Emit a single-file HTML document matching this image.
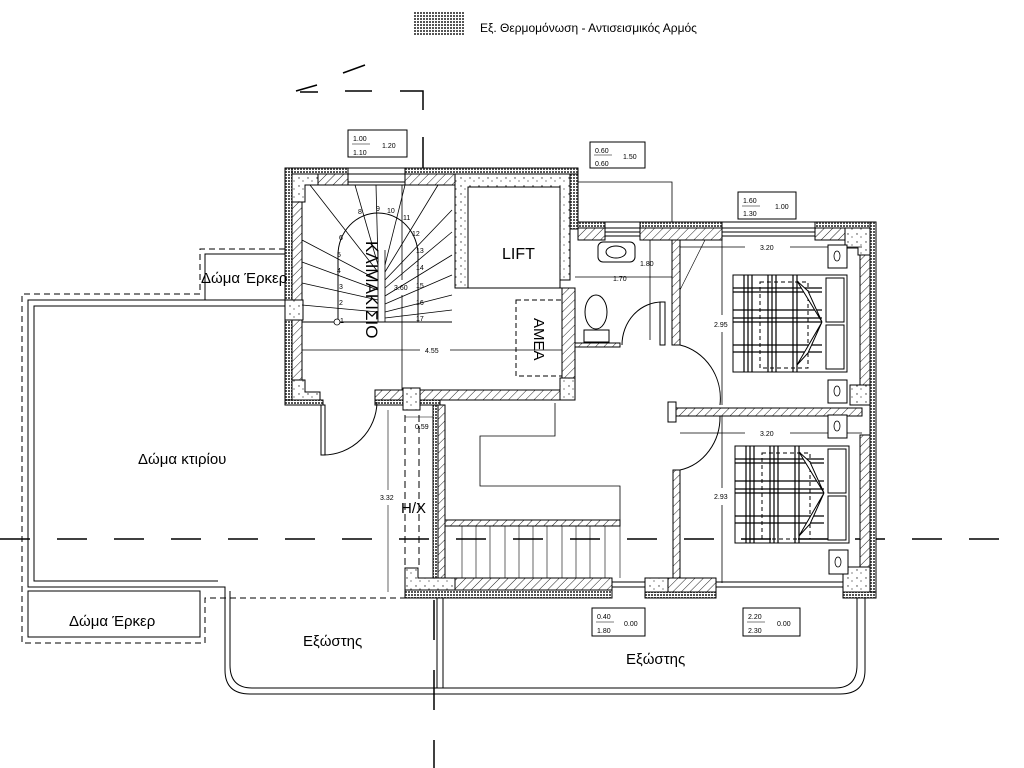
<!DOCTYPE html>
<html><head><meta charset="utf-8"><style>
html,body{margin:0;padding:0;background:#fff;}
svg{display:block;font-family:"Liberation Sans",sans-serif;}
</style></head><body>
<svg width="1024" height="768" viewBox="0 0 1024 768" xmlns="http://www.w3.org/2000/svg">
<defs>
<pattern id="ins" width="3" height="3" patternUnits="userSpaceOnUse"><rect width="3" height="3" fill="#fff"/><rect width="2" height="2" fill="#555"/></pattern>
<pattern id="hat" width="6" height="6" patternUnits="userSpaceOnUse" patternTransform="rotate(45)"><rect width="6" height="6" fill="#fff"/><line x1="0" y1="0" x2="0" y2="6" stroke="#222" stroke-width="1"/></pattern>
<pattern id="con" width="9" height="8" patternUnits="userSpaceOnUse"><rect width="9" height="8" fill="#fff"/><circle cx="2" cy="2" r="0.7" fill="#333"/><circle cx="6" cy="5" r="0.6" fill="#333"/></pattern>
</defs>
<g fill="none" stroke="#000" stroke-width="1">
<rect x="414" y="12" width="51" height="24" fill="url(#ins)" stroke="none"/>
<line x1="296" y1="91" x2="317" y2="85" stroke-width="1.5"/>
<line x1="300" y1="92" x2="318" y2="92" stroke-width="1.5"/>
<line x1="343" y1="73" x2="365" y2="65" stroke-width="1.5"/>
<line x1="345" y1="91" x2="372" y2="91" stroke-width="1.5"/>
<polyline points="400,91 423,91 423,110" stroke-width="1.5"/>
<line x1="423" y1="137" x2="423" y2="168" stroke-width="1.5"/>
<line x1="0" y1="539" x2="1000" y2="539" stroke-width="1.5" stroke-dasharray="30,27"/>
<line x1="434" y1="600" x2="434" y2="768" stroke-width="1.5" stroke-dasharray="40,30"/>

<polyline points="285,249 200,249 200,294 22,294 22,643 205,643 205,598 390,598" stroke-dasharray="6,4"/>
<polyline points="390,598 610,598" stroke-dasharray="6,4"/>
<polyline points="205,300 205,254 285,254"/>
<path d="M285,300 H28 V587 H225 V670 Q225,694 250,694 L840,694 Q865,694 865,670 L865,598"/>
<polyline points="285,306 34,306 34,581 218,581"/>
<path d="M230,591 V665 Q230,688 252,688 L835,688 Q857,688 857,665 L857,598"/>
<rect x="28" y="591" width="172" height="46"/>
<line x1="437" y1="598" x2="437" y2="688"/>
<line x1="443" y1="598" x2="443" y2="688"/>

<rect x="285" y="168" width="293" height="6" fill="url(#ins)" stroke="#000"/>
<rect x="348" y="168" width="57" height="6" fill="#fff" stroke="#000"/>
<rect x="285" y="168" width="7" height="237" fill="url(#ins)" stroke="#000"/>
<rect x="292" y="174" width="10" height="216" fill="url(#hat)"/>
<rect x="302" y="174" width="46" height="11" fill="url(#hat)"/>
<rect x="405" y="174" width="50" height="11" fill="url(#hat)"/>
<line x1="348" y1="182" x2="405" y2="182"/>
<line x1="348" y1="185" x2="405" y2="185"/>
<path d="M292,174 H318 V185 H305 V202 H292 Z" fill="url(#con)"/>
<rect x="285" y="300" width="18" height="20" fill="url(#con)"/>
<path d="M292,380 H305 V392 H320 V400 H292 Z" fill="url(#con)"/>
<rect x="285" y="400" width="38" height="5" fill="url(#ins)"/>
<path d="M455,174 H572 V228 H578" />
<rect x="570" y="174" width="8" height="55" fill="url(#ins)"/>
<path d="M455,174 H570 V280 H560 V187 H468 V288 H455 Z" fill="url(#con)"/>
<rect x="468" y="187" width="92" height="101"/>
<rect x="516" y="300" width="46" height="76" stroke-dasharray="5,3"/>
<line x1="455" y1="288" x2="562" y2="288"/>
<rect x="562" y="288" width="13" height="92" fill="url(#hat)"/>
<rect x="560" y="378" width="15" height="22" fill="url(#con)"/>
<rect x="375" y="390" width="185" height="10" fill="url(#hat)"/>
<rect x="375" y="400" width="65" height="5" fill="url(#ins)"/>
<rect x="403" y="388" width="17" height="22" fill="url(#con)"/>
<rect x="321" y="405" width="4" height="50"/>
<path d="M323,455 A54,54 0 0 0 377,402"/>

<line x1="302" y1="322" x2="452" y2="322"/>
<path d="M338,322 V255 A40,42 0 0 1 418,255 V322"/>
<g stroke-width="0.8">
<line x1="302" y1="305" x2="378" y2="312"/>
<line x1="302" y1="283" x2="378" y2="300"/>
<line x1="302" y1="262" x2="378" y2="290"/>
<line x1="302" y1="240" x2="378" y2="280"/>
<line x1="310" y1="185" x2="378" y2="272"/>
<line x1="355" y1="185" x2="378" y2="265"/>
<line x1="376" y1="185" x2="378" y2="262"/>
<line x1="405" y1="185" x2="385" y2="265"/>
<line x1="438" y1="185" x2="385" y2="272"/>
<line x1="452" y1="210" x2="385" y2="280"/>
<line x1="452" y1="232" x2="385" y2="288"/>
<line x1="452" y1="255" x2="385" y2="296"/>
<line x1="452" y1="275" x2="385" y2="304"/>
<line x1="452" y1="295" x2="385" y2="312"/>
<line x1="452" y1="310" x2="385" y2="318"/>
<line x1="378" y1="250" x2="378" y2="322"/>
<line x1="385" y1="250" x2="385" y2="322"/>
<circle cx="337" cy="322" r="3" fill="#fff"/>
</g>
<line x1="302" y1="350" x2="420" y2="350" stroke-width="0.8"/>
<line x1="450" y1="350" x2="562" y2="350" stroke-width="0.8"/>
<line x1="402" y1="185" x2="402" y2="280" stroke-width="0.8"/>
<line x1="402" y1="295" x2="402" y2="390" stroke-width="0.8"/>

<rect x="578" y="222" width="297" height="6" fill="url(#ins)"/>
<rect x="605" y="222" width="35" height="6" fill="#fff"/>
<rect x="722" y="222" width="93" height="6" fill="#fff"/>
<rect x="578" y="228" width="27" height="12" fill="url(#hat)"/>
<rect x="640" y="228" width="82" height="12" fill="url(#hat)"/>
<rect x="815" y="228" width="30" height="12" fill="url(#hat)"/>
<line x1="605" y1="232" x2="640" y2="232"/><line x1="605" y1="236" x2="640" y2="236"/>
<line x1="722" y1="232" x2="815" y2="232"/><line x1="722" y1="236" x2="815" y2="236"/>
<path d="M845,228 H870 V255 H858 V248 H845 Z" fill="url(#con)"/>
<rect x="870" y="222" width="6" height="376" fill="url(#ins)"/>
<rect x="860" y="255" width="10" height="132" fill="url(#hat)"/>
<rect x="860" y="435" width="10" height="132" fill="url(#hat)"/>
<rect x="850" y="385" width="20" height="20" fill="url(#con)"/>
<rect x="843" y="567" width="27" height="25" fill="url(#con)"/>
<rect x="843" y="592" width="33" height="6" fill="url(#ins)"/>
<polyline points="578,182 672,182 672,222" stroke-width="0.8"/>
<rect x="672" y="240" width="8" height="105" fill="url(#hat)"/>
<rect x="575" y="343" width="45" height="4" fill="url(#hat)"/>
<rect x="598" y="242" width="37" height="20" rx="5"/>
<ellipse cx="616" cy="252" rx="10" ry="6"/>
<ellipse cx="596" cy="312" rx="11" ry="17"/>
<rect x="584" y="330" width="25" height="12"/>
<line x1="575" y1="277" x2="672" y2="277" stroke-width="0.8"/>
<line x1="650" y1="240" x2="650" y2="340" stroke-width="0.8"/>
<rect x="660" y="302" width="5" height="43"/>
<path d="M622,345 A40,43 0 0 1 662,302"/>
<polyline points="680,290 705,240" stroke-width="0.6"/>
<rect x="672" y="408" width="190" height="8" fill="url(#hat)"/>
<rect x="668" y="402" width="8" height="20" fill="#fff"/>
<path d="M680,345 A52,55 0 0 1 720,405"/>
<path d="M720,416 A50,54 0 0 1 680,470"/>
<rect x="673" y="470" width="7" height="113" fill="url(#hat)"/>
<line x1="680" y1="247" x2="745" y2="247" stroke-width="0.8"/><line x1="790" y1="247" x2="862" y2="247" stroke-width="0.8"/>
<line x1="722" y1="240" x2="722" y2="315" stroke-width="0.8"/><line x1="722" y1="332" x2="722" y2="405" stroke-width="0.8"/>
<line x1="680" y1="433" x2="745" y2="433" stroke-width="0.8"/><line x1="790" y1="433" x2="862" y2="433" stroke-width="0.8"/>
<line x1="722" y1="416" x2="722" y2="488" stroke-width="0.8"/><line x1="722" y1="505" x2="722" y2="583" stroke-width="0.8"/>
<g id="bed1">
<rect x="733" y="275" width="114" height="97"/>
<rect x="826" y="278" width="18" height="44"/><rect x="826" y="325" width="18" height="44"/>
<g stroke-width="1.2">
<line x1="744" y1="275" x2="744" y2="372"/><line x1="748" y1="275" x2="748" y2="372"/><line x1="752" y1="275" x2="752" y2="372"/>
<line x1="768" y1="275" x2="768" y2="372"/><line x1="772" y1="275" x2="772" y2="372"/><line x1="776" y1="275" x2="776" y2="372"/>
<line x1="793" y1="275" x2="793" y2="372"/><line x1="797" y1="275" x2="797" y2="372"/>
<line x1="733" y1="288" x2="822" y2="288"/><line x1="733" y1="292" x2="822" y2="292"/>
<line x1="733" y1="310" x2="822" y2="310"/><line x1="733" y1="318" x2="822" y2="318"/><line x1="733" y1="322" x2="822" y2="322"/>
<line x1="733" y1="345" x2="822" y2="345"/><line x1="733" y1="352" x2="822" y2="352"/>
</g>
<rect x="760" y="282" width="48" height="86" stroke-dasharray="4,3"/>
<path d="M797,281 L822,322 L808,291 Z M797,365 L822,322 L808,353 Z" fill="#fff"/>
</g>
<use href="#bed1" x="2" y="171"/>
<g fill="#fff">
<rect x="828" y="245" width="19" height="23"/><rect x="828" y="380" width="19" height="23"/>
<rect x="828" y="415" width="19" height="23"/><rect x="829" y="550" width="19" height="24"/>
</g>
<g stroke-width="0.8">
<ellipse cx="837" cy="256" rx="3" ry="5"/><ellipse cx="837" cy="391" rx="3" ry="5"/>
<ellipse cx="837" cy="426" rx="3" ry="5"/><ellipse cx="838" cy="562" rx="3" ry="5"/>
</g>

<rect x="433" y="405" width="5" height="187" fill="url(#ins)"/>
<rect x="438" y="405" width="7" height="173" fill="url(#hat)"/>
<line x1="405" y1="415" x2="405" y2="568" stroke-dasharray="7,4"/>
<line x1="419" y1="415" x2="419" y2="568" stroke-dasharray="7,4"/>
<line x1="388" y1="410" x2="388" y2="490" stroke-width="0.6"/><line x1="388" y1="505" x2="388" y2="592" stroke-width="0.6"/>
<line x1="405" y1="417" x2="433" y2="417" stroke-width="0.6"/>
<path d="M405,568 H418 V578 H455 V590 H405 Z" fill="url(#con)"/>
<rect x="405" y="590" width="207" height="8" fill="url(#ins)"/>
<rect x="455" y="578" width="157" height="12" fill="url(#hat)"/>
<line x1="612" y1="582" x2="645" y2="582"/><line x1="612" y1="587" x2="645" y2="587"/>
<rect x="645" y="578" width="23" height="14" fill="url(#con)"/>
<rect x="668" y="578" width="48" height="14" fill="url(#hat)"/>
<rect x="645" y="592" width="71" height="6" fill="url(#ins)"/>
<line x1="716" y1="582" x2="843" y2="582"/><line x1="716" y1="587" x2="843" y2="587"/>
<polyline points="555,403 555,436 480,436 480,486 620,486 620,520" stroke-width="0.8"/>
<rect x="445" y="520" width="175" height="6" fill="url(#hat)"/>
<g stroke-width="0.6">
<line x1="462" y1="526" x2="462" y2="578"/><line x1="476" y1="526" x2="476" y2="578"/><line x1="490" y1="526" x2="490" y2="578"/>
<line x1="505" y1="526" x2="505" y2="578"/><line x1="519" y1="526" x2="519" y2="578"/><line x1="533" y1="526" x2="533" y2="578"/>
<line x1="547" y1="526" x2="547" y2="578"/><line x1="562" y1="526" x2="562" y2="578"/><line x1="576" y1="526" x2="576" y2="578"/>
<line x1="590" y1="526" x2="590" y2="578"/><line x1="605" y1="526" x2="605" y2="578"/><line x1="620" y1="526" x2="620" y2="578"/>
</g>
<rect x="348" y="130" width="59" height="27"/><line x1="352" y1="144" x2="370" y2="144" stroke-width="0.6"/>
<rect x="590" y="142" width="55" height="26"/><line x1="594" y1="155" x2="612" y2="155" stroke-width="0.6"/>
<rect x="738" y="192" width="58" height="27"/><line x1="742" y1="206" x2="760" y2="206" stroke-width="0.6"/>
<rect x="592" y="608" width="53" height="28"/><line x1="596" y1="622" x2="614" y2="622" stroke-width="0.6"/>
<rect x="743" y="608" width="57" height="28"/><line x1="747" y1="622" x2="765" y2="622" stroke-width="0.6"/>
</g>

<g fill="#000" font-family="Liberation Sans, sans-serif">
<text x="480" y="32" font-size="12">Εξ. Θερμομόνωση - Αντισεισμικός Αρμός</text>
<g font-size="7">
<text x="353" y="141">1.00</text><text x="353" y="155">1.10</text><text x="382" y="148">1.20</text>
<text x="595" y="153">0.60</text><text x="595" y="166">0.60</text><text x="623" y="159">1.50</text>
<text x="743" y="203">1.60</text><text x="743" y="216">1.30</text><text x="775" y="209">1.00</text>
<text x="597" y="619">0.40</text><text x="597" y="633">1.80</text><text x="624" y="626">0.00</text>
<text x="748" y="619">2.20</text><text x="748" y="633">2.30</text><text x="777" y="626">0.00</text>
<text x="425" y="353">4.55</text><text x="394" y="290">3.60</text>
<text x="613" y="281">1.70</text><text x="640" y="266">1.80</text>
<text x="760" y="250">3.20</text><text x="714" y="327">2.95</text>
<text x="760" y="436">3.20</text><text x="714" y="499">2.93</text>
<text x="380" y="500">3.32</text><text x="415" y="429">0.59</text>
<text x="340" y="323">1</text><text x="339" y="305">2</text><text x="339" y="289">3</text><text x="337" y="273">4</text><text x="337" y="257">5</text><text x="339" y="240">6</text><text x="358" y="214">8</text><text x="376" y="211">9</text><text x="387" y="213">10</text><text x="403" y="220">11</text><text x="412" y="236">12</text><text x="416" y="253">13</text><text x="416" y="270">14</text><text x="416" y="288">15</text><text x="416" y="305">16</text><text x="416" y="321">17</text>
</g>
<text x="502" y="259" font-size="16">LIFT</text>
<text transform="translate(366,241) rotate(90)" font-size="17">ΚΛΙΜΑΚΙΣΙΟ</text>
<text transform="translate(534,318) rotate(90)" font-size="15">ΑΜΕΑ</text>
<text x="201" y="283" font-size="15">Δώμα Έρκερ</text>
<text x="138" y="464" font-size="15">Δώμα κτιρίου</text>
<text x="69" y="626" font-size="15">Δώμα Έρκερ</text>
<text x="303" y="646" font-size="15">Εξώστης</text>
<text x="626" y="664" font-size="15">Εξώστης</text>
<text x="401" y="513" font-size="15">Η/Χ</text>
</g>
</svg>
</body></html>
